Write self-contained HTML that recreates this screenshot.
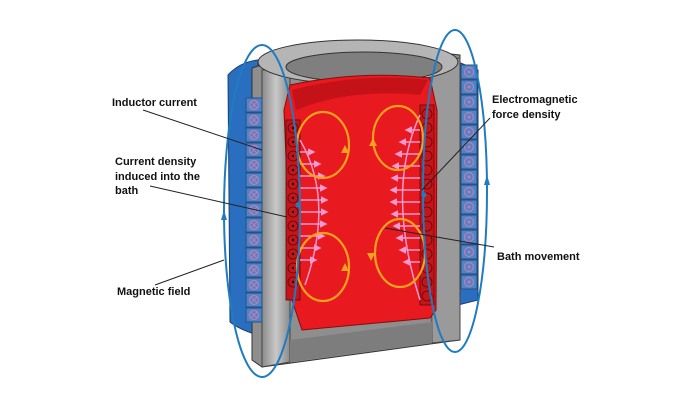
<!DOCTYPE html>
<html><head><style>body{margin:0;background:#fff}svg{display:block}text{font-family:"Liberation Sans",sans-serif;font-weight:bold;font-size:11px;fill:#111}</style></head><body>
<svg width="700" height="400" viewBox="0 0 700 400">
<defs>
<linearGradient id="g" x1="0" x2="1"><stop offset="0" stop-color="#8a8a8a"/><stop offset=".5" stop-color="#c8c8c8"/><stop offset="1" stop-color="#8a8a8a"/></linearGradient>
<marker id="pa" markerWidth="5" markerHeight="5" refX="4" refY="2.5" orient="auto"><path d="M0 0L5 2.5L0 5z" fill="#f49ad0"/></marker>
<g id="sq"><rect width="16" height="14" fill="#4a86c8" stroke="#2a4f85" stroke-width="1"/><circle cx="8" cy="7" r="4.5" fill="none" stroke="#c77ab0" stroke-width="1.2"/><path d="M5 4l6 6M11 4l-6 6" stroke="#c77ab0" stroke-width="1"/></g>
<g id="sr"><rect width="16" height="14" fill="#4a86c8" stroke="#2a4f85" stroke-width="1"/><circle cx="8" cy="7" r="4.5" fill="none" stroke="#c77ab0" stroke-width="1.2"/><circle cx="8" cy="7" r="1.5" fill="#c77ab0"/></g>
</defs>
<path d="M228 75 Q240 62 258 60 L258 335 Q240 330 230 322 Z" fill="#2a6fbf" stroke="#1b3f70"/>
<path d="M458 62 L478 70 L478 300 L458 305 Z" fill="#2a6fbf" stroke="#1b3f70"/>
<path d="M252 68 Q330 40 460 55 L460 340 L262 367 L252 360 Z" fill="#8e8e8e" stroke="#333"/>
<path d="M262 70 L290 68 L290 362 L262 367 Z" fill="url(#g)" stroke="#444"/>
<path d="M430 60 L460 58 L460 340 L432 343 Z" fill="#9a9a9a" stroke="#444"/>
<path d="M290 340 L432 322 L432 343 L290 362Z" fill="#7d7d7d"/>
<ellipse cx="358" cy="62" rx="100" ry="22" fill="#b5b5b5" stroke="#333"/>
<ellipse cx="364" cy="67" rx="78" ry="15" fill="#7f7f7f" stroke="#333"/>
<path d="M290 85 Q360 70 430 78 L437 110 L436 310 L430 318 L302 330 L292 300 L284 110 Z" fill="#e8191f" stroke="#8a0c0c"/>
<path d="M292 90 Q360 72 428 80 L420 95 Q350 88 296 110Z" fill="#c51218"/>
<g fill="#c4151b" stroke="#5a0808" stroke-width=".8">
<rect x="286" y="120" width="14" height="180"/>
<rect x="420" y="105" width="14" height="200"/>
</g>
<g fill="none" stroke="#5a0808" stroke-width=".8">
<circle cx="293" cy="128" r="5"/><circle cx="293" cy="142" r="5"/><circle cx="293" cy="156" r="5"/><circle cx="293" cy="170" r="5"/><circle cx="293" cy="184" r="5"/><circle cx="293" cy="198" r="5"/><circle cx="293" cy="212" r="5"/><circle cx="293" cy="226" r="5"/><circle cx="293" cy="240" r="5"/><circle cx="293" cy="254" r="5"/><circle cx="293" cy="268" r="5"/><circle cx="293" cy="282" r="5"/>
<circle cx="427" cy="114" r="5"/><circle cx="427" cy="128" r="5"/><circle cx="427" cy="142" r="5"/><circle cx="427" cy="156" r="5"/><circle cx="427" cy="170" r="5"/><circle cx="427" cy="184" r="5"/><circle cx="427" cy="198" r="5"/><circle cx="427" cy="212" r="5"/><circle cx="427" cy="226" r="5"/><circle cx="427" cy="240" r="5"/><circle cx="427" cy="254" r="5"/><circle cx="427" cy="268" r="5"/><circle cx="427" cy="282" r="5"/><circle cx="427" cy="296" r="5"/>
</g>
<g fill="#000">
<circle cx="293" cy="128" r="1.2"/><circle cx="293" cy="142" r="1.2"/><circle cx="293" cy="156" r="1.2"/><circle cx="293" cy="170" r="1.2"/><circle cx="293" cy="184" r="1.2"/><circle cx="293" cy="198" r="1.2"/><circle cx="293" cy="212" r="1.2"/><circle cx="293" cy="226" r="1.2"/><circle cx="293" cy="240" r="1.2"/><circle cx="293" cy="254" r="1.2"/><circle cx="293" cy="268" r="1.2"/><circle cx="293" cy="282" r="1.2"/></g>
<g stroke="#f49ad0" stroke-width="1.5" fill="none">
<path d="M300 140 Q335 200 305 285"/><path d="M420 115 Q385 190 420 300"/>
</g>
<g stroke="#f49ad0" stroke-width="1.5" fill="none" marker-end="url(#pa)">
<path d="M300 152h14"/><path d="M300 164h20"/><path d="M300 176h24"/><path d="M300 188h26"/><path d="M300 200h27"/><path d="M300 212h27"/><path d="M300 224h26"/><path d="M300 236h24"/><path d="M300 248h20"/><path d="M300 260h16"/>
<path d="M420 130h-14"/><path d="M420 142h-20"/><path d="M420 154h-24"/><path d="M420 166h-27"/><path d="M420 178h-28"/><path d="M420 190h-29"/><path d="M420 202h-29"/><path d="M420 214h-28"/><path d="M420 226h-26"/><path d="M420 238h-23"/><path d="M420 250h-20"/><path d="M420 262h-16"/>
</g>
<g>
<use href="#sq" x="246" y="98"/><use href="#sq" x="246" y="113"/><use href="#sq" x="246" y="128"/><use href="#sq" x="246" y="143"/><use href="#sq" x="246" y="158"/><use href="#sq" x="246" y="173"/><use href="#sq" x="246" y="188"/><use href="#sq" x="246" y="203"/><use href="#sq" x="246" y="218"/><use href="#sq" x="246" y="233"/><use href="#sq" x="246" y="248"/><use href="#sq" x="246" y="263"/><use href="#sq" x="246" y="278"/><use href="#sq" x="246" y="293"/><use href="#sq" x="246" y="308"/>
<use href="#sr" x="461" y="65"/><use href="#sr" x="461" y="80"/><use href="#sr" x="461" y="95"/><use href="#sr" x="461" y="110"/><use href="#sr" x="461" y="125"/><use href="#sr" x="461" y="140"/><use href="#sr" x="461" y="155"/><use href="#sr" x="461" y="170"/><use href="#sr" x="461" y="185"/><use href="#sr" x="461" y="200"/><use href="#sr" x="461" y="215"/><use href="#sr" x="461" y="230"/><use href="#sr" x="461" y="245"/><use href="#sr" x="461" y="260"/><use href="#sr" x="461" y="275"/>
</g>
<g fill="none" stroke="#f6a21e" stroke-width="2.2">
<ellipse cx="323" cy="145" rx="26" ry="33"/><ellipse cx="398" cy="138" rx="25" ry="32"/>
<ellipse cx="323" cy="267" rx="26" ry="34"/><ellipse cx="400" cy="253" rx="25" ry="34"/>
</g>
<g fill="#f6a21e"><path d="M345 145l4 8h-8z"/><path d="M373 138l-4-8h8z" transform="rotate(180 373 138)"/><path d="M349 263l-4 8-4-8z" transform="rotate(180 345 267)"/><path d="M375 253l4-8 4 8z" transform="rotate(180 375 253)"/></g>
<g fill="none" stroke="#1f7cc0" stroke-width="2">
<ellipse cx="262" cy="211" rx="38" ry="166"/><ellipse cx="455" cy="191" rx="32" ry="161"/>
</g>
<g fill="#1f7cc0"><path d="M221 220l3-10 3 10z"/><path d="M484 185l3-10 3 10z"/><circle cx="298" cy="205" r="2.5"/><circle cx="424" cy="195" r="2.5"/></g>
<g stroke="#222" stroke-width="1">
<line x1="143" y1="110" x2="262" y2="150"/><line x1="150" y1="186" x2="287" y2="217"/><line x1="155" y1="285" x2="224" y2="260"/>
<line x1="490" y1="118" x2="422" y2="190"/><line x1="494" y1="247" x2="385" y2="228"/>
</g>
<text x="112" y="106">Inductor current</text>
<text x="115" y="165">Current density</text><text x="115" y="180">induced into the</text><text x="115" y="194">bath</text>
<text x="117" y="295">Magnetic field</text>
<text x="492" y="103">Electromagnetic</text><text x="492" y="118">force density</text>
<text x="497" y="260">Bath movement</text>
</svg>
</body></html>
